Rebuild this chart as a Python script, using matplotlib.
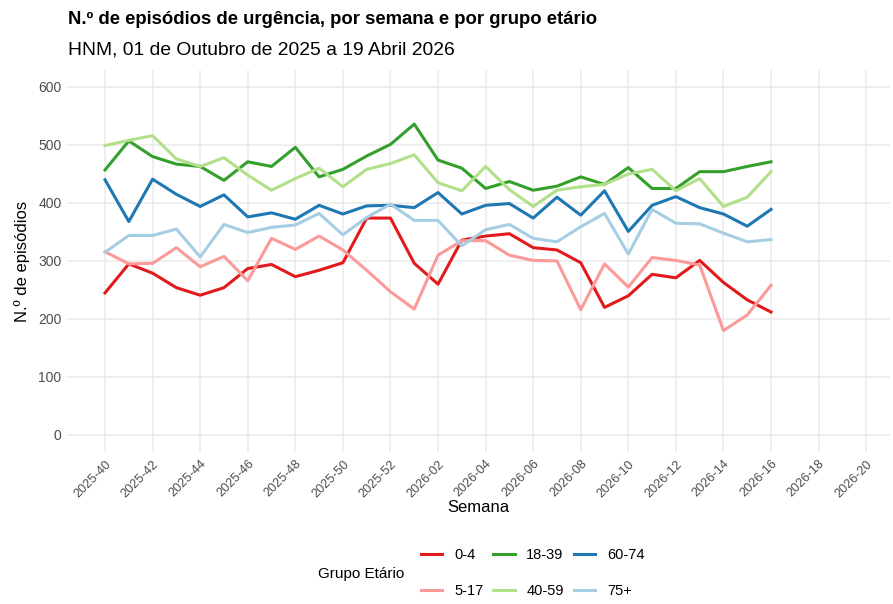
import matplotlib
matplotlib.use("Agg")
import matplotlib.pyplot as plt

plt.rcParams['font.family'] = ['Liberation Sans', 'DejaVu Sans']

# semanas (eixo discreto, inclui semanas ainda sem dados)
weeks = ["2025-%02d" % w for w in range(40, 53)] + ["2026-%02d" % w for w in range(1, 21)]
n_data = 29

groups = ["0-4", "5-17", "18-39", "40-59", "60-74", "75+"]
group_colors = ["#E31A1C", "#FB9A99", "#33A02C", "#B2DF8A", "#1F78B4", "#A6CEE3"]

v_0_4 = [245, 295, 279, 254, 241, 254, 287, 294, 273, 284, 297, 374, 374, 296, 260,
         336, 343, 347, 323, 319, 297, 220, 240, 277, 271, 301, 263, 233, 212]
v_5_17 = [316, 295, 296, 323, 290, 308, 266, 339, 320, 343, 319, 284, 247, 217, 310,
          335, 335, 310, 301, 300, 216, 295, 255, 306, 301, 293, 180, 207, 258]
v_18_39 = [457, 507, 480, 467, 463, 439, 471, 463, 496, 445, 458, 481, 501, 536, 474,
           460, 425, 437, 422, 429, 445, 432, 461, 425, 425, 454, 454, 463, 471]
v_40_59 = [499, 508, 516, 476, 463, 478, 448, 422, 442, 460, 428, 458, 468, 483, 435,
           421, 463, 423, 394, 422, 428, 432, 450, 458, 421, 442, 394, 410, 454]
v_60_74 = [440, 368, 441, 415, 394, 414, 376, 383, 372, 396, 381, 395, 396, 392, 418,
           381, 396, 399, 374, 410, 379, 421, 351, 396, 411, 392, 381, 360, 389]
v_75 = [315, 344, 344, 355, 307, 363, 349, 358, 362, 382, 345, 375, 398, 370, 370,
        326, 354, 363, 339, 333, 359, 382, 312, 389, 365, 364, 348, 333, 337]

series = [v_0_4, v_5_17, v_18_39, v_40_59, v_60_74, v_75]

fig = plt.figure(figsize=(8.93, 6.04), dpi=100)
ax = fig.add_axes([0.075, 0.251, 0.9216, 0.6338])

x = list(range(n_data))
handles = []
for name, col, vals in zip(groups, group_colors, series):
    h, = ax.plot(x, vals, color=col, linewidth=2.2, label=name)
    handles.append(h)

ax.set_xlim(-1.6, 33.0)
ax.set_ylim(-30, 630)
ax.set_yticks([0, 100, 200, 300, 400, 500, 600])
tick_pos = list(range(0, len(weeks), 2))
ax.set_xticks(tick_pos)
ax.set_xticklabels([weeks[i] for i in tick_pos], rotation=45, ha='right',
                   rotation_mode='anchor')

for s in ax.spines.values():
    s.set_visible(False)
ax.grid(True, color="#EBEBEB", linewidth=1.1)
ax.set_axisbelow(True)
ax.tick_params(length=0, labelsize=10, colors="#4D4D4D", pad=4)
ax.tick_params(axis='x', labelsize=9.2, pad=4)

ax.set_xlabel("Semana", fontsize=12, labelpad=0)
ax.set_ylabel("N.º de episódios", fontsize=12, labelpad=6)

fig.text(0.076, 0.968, "N.º de episódios de urgência, por semana e por grupo etário",
         fontsize=13.3, fontweight='bold', va='center', ha='left')
fig.text(0.076, 0.918, "HNM, 01 de Outubro de 2025 a 19 Abril 2026",
         fontsize=13.9, va='center', ha='left')

fig.text(0.356, 0.049, "Grupo Etário", fontsize=11, va='center', ha='left')
fig.legend(handles=handles, ncol=3, loc='center left', bbox_to_anchor=(0.457, 0.051),
           frameon=False, fontsize=10.5, handlelength=1.45, handletextpad=0.8,
           columnspacing=0.7, labelspacing=1.55)

fig.savefig("out.png", dpi=100)
